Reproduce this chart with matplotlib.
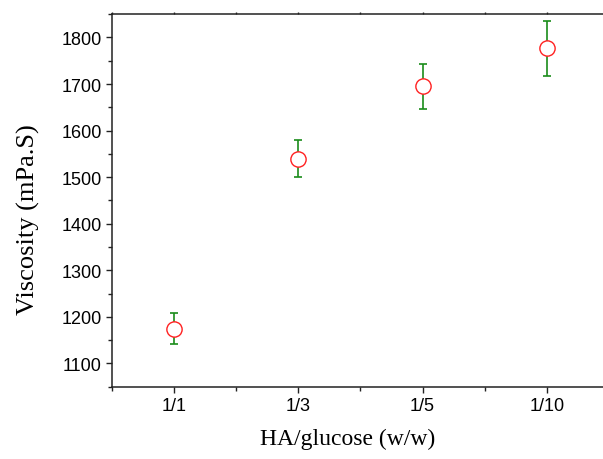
import matplotlib
matplotlib.use("Agg")
import matplotlib.pyplot as plt
from matplotlib.ticker import MultipleLocator

ratios = ["1/1", "1/3", "1/5", "1/10"]
viscosity = [1175, 1540, 1695, 1777]
viscosity_err = [34, 40, 48, 59]


def main():
    fig = plt.figure(figsize=(6.03, 4.6), dpi=100)
    ax = fig.add_axes([0.1857, 0.157, 0.824, 0.81])

    x = list(range(len(ratios)))
    ax.errorbar(
        x,
        viscosity,
        yerr=viscosity_err,
        fmt="none",
        ecolor="#1a8c1a",
        elinewidth=1.2,
        capsize=3,
        capthick=1.2,
        zorder=2,
    )
    ax.plot(
        x,
        viscosity,
        linestyle="none",
        marker="o",
        markersize=11,
        markerfacecolor="white",
        markeredgecolor="#ff2020",
        markeredgewidth=1.0,
        zorder=3,
    )

    ax.set_xlim(-0.5, 3.5)
    ax.set_ylim(1050, 1850)
    ax.set_xticks(x)
    ax.set_xticklabels(ratios)
    ax.xaxis.set_minor_locator(MultipleLocator(0.5))
    ax.yaxis.set_minor_locator(MultipleLocator(50))
    ax.set_yticks([1100, 1200, 1300, 1400, 1500, 1600, 1700, 1800])

    for side in ax.spines.values():
        side.set_linewidth(1.1)
        side.set_color("#222222")

    for lab in ax.get_xticklabels() + ax.get_yticklabels():
        lab.set_fontfamily("Liberation Sans")
        lab.set_fontsize(13)

    ax.tick_params(which="major", direction="out", length=4.5, width=1.0, color="#222222", pad=3)
    ax.tick_params(which="minor", direction="out", length=3, width=1.0, color="#222222")
    ax.tick_params(axis="x", which="both", top=True, labeltop=False)
    # top ticks are only tiny bumps in the original
    for t in ax.xaxis.get_major_ticks() + ax.xaxis.get_minor_ticks():
        t.tick2line.set_markersize(1.5)

    ax.set_xlabel("HA/glucose (w/w)", family="Liberation Serif", fontsize=17)
    ax.set_ylabel("Viscosity (mPa.S)", family="Liberation Serif", fontsize=19)
    ax.xaxis.set_label_coords(0.475, -0.11)
    ax.yaxis.set_label_coords(-0.145, 0.45)

    fig.savefig("out.png", dpi=100)
    plt.close(fig)


if __name__ == "__main__":
    main()
